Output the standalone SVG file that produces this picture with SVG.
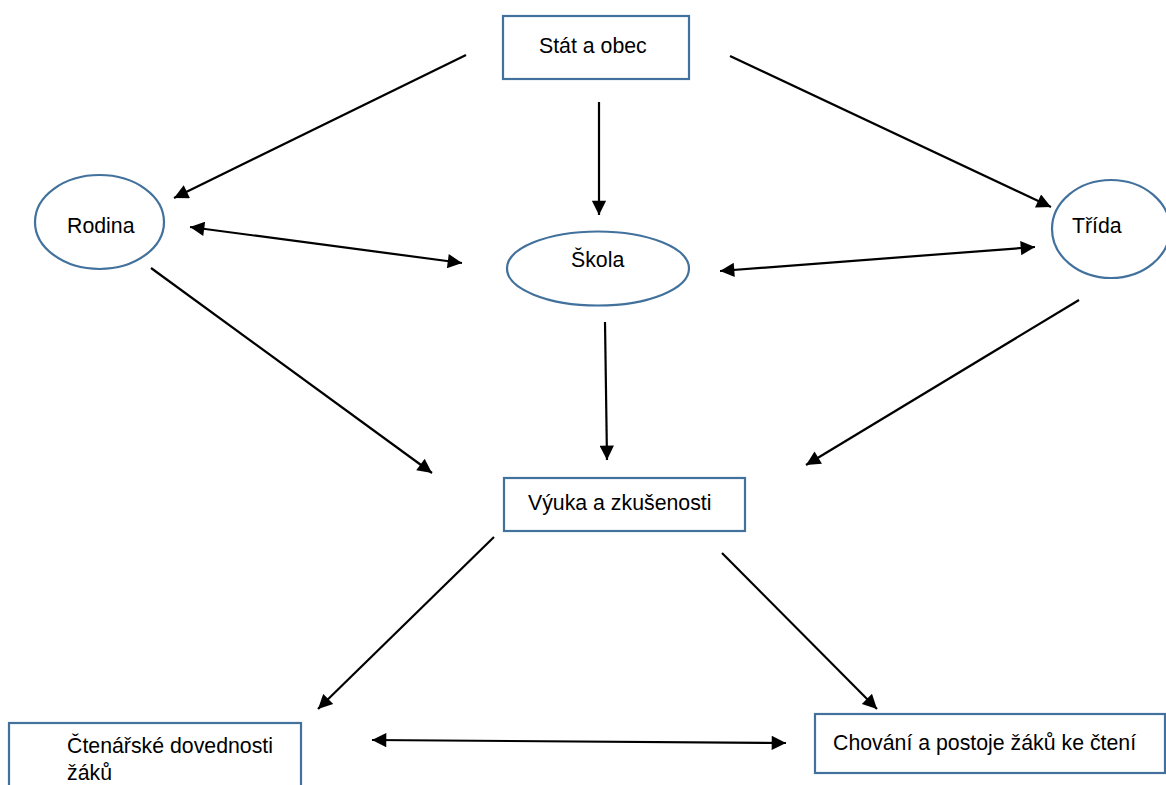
<svg xmlns="http://www.w3.org/2000/svg" width="1166" height="785" viewBox="0 0 1166 785">
<style>
.box{fill:#fff;stroke:#41719c;stroke-width:2.2}
.lbl{font-family:"Liberation Sans",Arial,sans-serif;font-size:21.3px;fill:#000}
.c{stroke:#000;stroke-width:2.2;fill:none}
</style>
<defs>
<marker id="ah" viewBox="0 0 10 10" refX="10" refY="5" markerWidth="7.5" markerHeight="6.5" markerUnits="strokeWidth" orient="auto-start-reverse">
<path d="M0,0 L10,5 L0,10 z" fill="#000"/>
</marker>
</defs>
<rect width="1166" height="785" fill="#fff"/>
<g id="connectors">
<line class="c" x1="466" y1="55" x2="174" y2="198" marker-end="url(#ah)"/>
<line class="c" x1="599" y1="102" x2="599" y2="215" marker-end="url(#ah)"/>
<line class="c" x1="730" y1="56" x2="1051" y2="207" marker-end="url(#ah)"/>
<line class="c" x1="190" y1="227" x2="462" y2="263" marker-start="url(#ah)" marker-end="url(#ah)"/>
<line class="c" x1="720" y1="271" x2="1035" y2="247" marker-start="url(#ah)" marker-end="url(#ah)"/>
<line class="c" x1="151" y1="268" x2="432" y2="473" marker-end="url(#ah)"/>
<line class="c" x1="605" y1="322" x2="607" y2="460" marker-end="url(#ah)"/>
<line class="c" x1="1079" y1="300" x2="806" y2="465" marker-end="url(#ah)"/>
<line class="c" x1="494" y1="537" x2="318" y2="709" marker-end="url(#ah)"/>
<line class="c" x1="722" y1="553" x2="877" y2="709" marker-end="url(#ah)"/>
<line class="c" x1="372" y1="740" x2="786" y2="743" marker-start="url(#ah)" marker-end="url(#ah)"/>
</g>
<g id="stat">
<rect class="box" x="503" y="16" width="186" height="63"/>
<text class="lbl" x="539" y="53">Stát a obec</text>
</g>
<g id="rodina">
<ellipse class="box" cx="99.5" cy="222" rx="64.5" ry="47"/>
<text class="lbl" x="67" y="233">Rodina</text>
</g>
<g id="skola">
<ellipse class="box" cx="598" cy="268.5" rx="91" ry="37"/>
<text class="lbl" x="571" y="267">Škola</text>
</g>
<g id="trida">
<ellipse class="box" cx="1111" cy="229" rx="59" ry="49"/>
<text class="lbl" x="1072" y="233">Třída</text>
</g>
<g id="vyuka">
<rect class="box" x="504" y="478" width="241" height="53"/>
<text class="lbl" x="528" y="510">Výuka a zkušenosti</text>
</g>
<g id="ctenarske">
<rect class="box" x="9" y="723" width="292" height="80"/>
<text class="lbl" x="67" y="753">Čtenářské dovednosti</text>
<text class="lbl" x="67" y="780">žáků</text>
</g>
<g id="chovani">
<rect class="box" x="815" y="714" width="350" height="59"/>
<text class="lbl" x="833" y="750">Chování a postoje žáků ke čtení</text>
</g>
</svg>
